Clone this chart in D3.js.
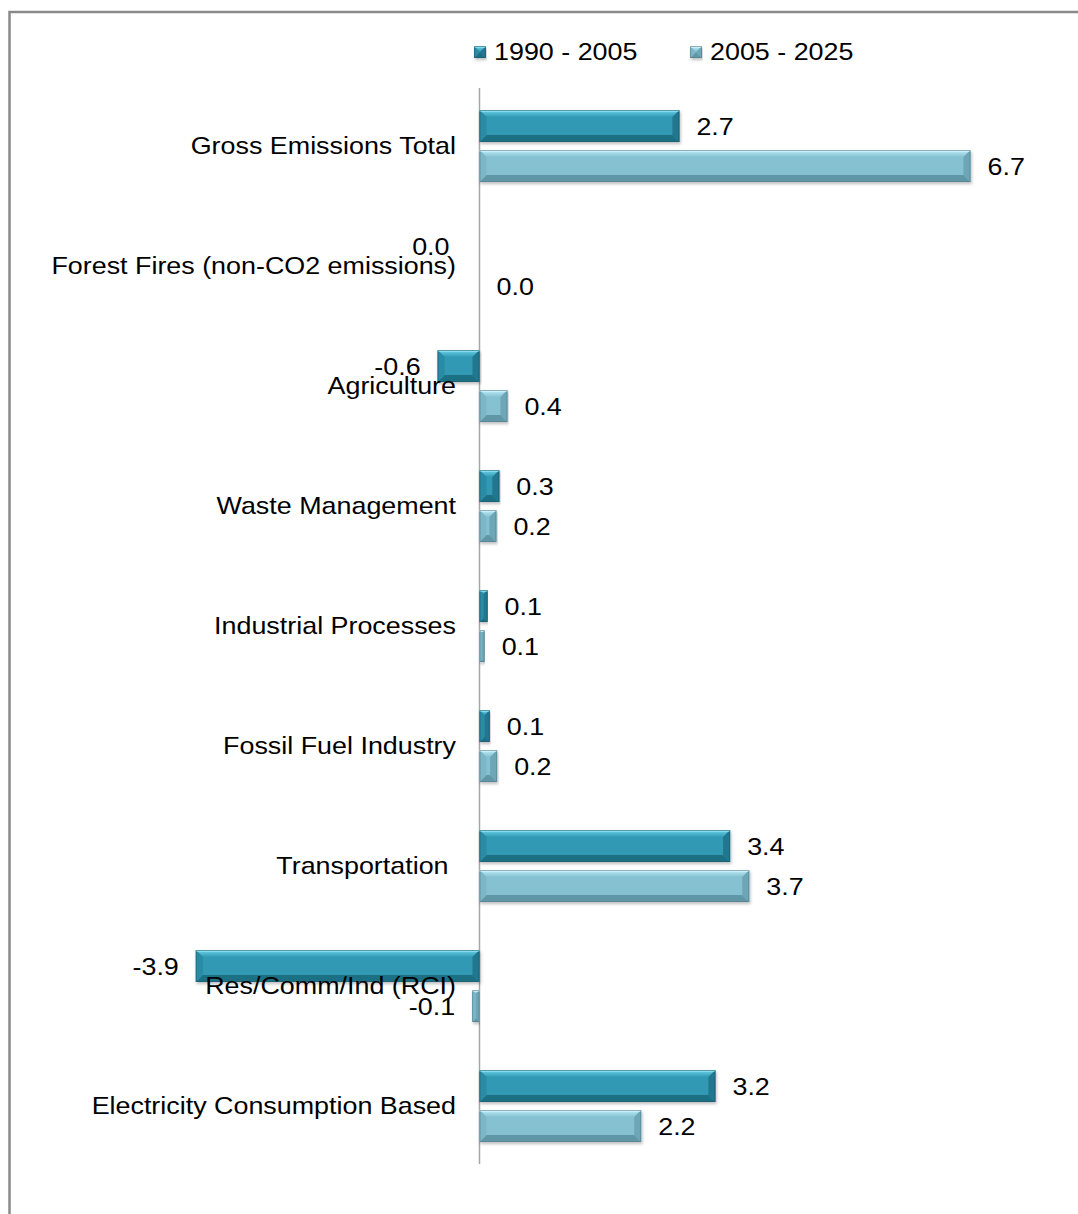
<!DOCTYPE html>
<html>
<head>
<meta charset="utf-8">
<script src="https://cdn.jsdelivr.net/npm/d3@7"></script>
<style>
  body { margin: 0; background: #fff; }
  svg { display: block; font-family: "Liberation Sans", Arial, sans-serif; }
</style>
</head>
<body>
<div id="chart"></div>
<script>
// categories, top to bottom
const categories = [
    "Gross Emissions Total",
    "Forest Fires (non-CO2 emissions)",
    "Agriculture",
    "Waste Management",
    "Industrial Processes",
    "Fossil Fuel Industry",
    "Transportation ",
    "Res/Comm/Ind (RCI)",
    "Electricity Consumption Based"
];
const seriesNames = ["1990 - 2005", "2005 - 2025"];
// values (labels show one decimal)
const values1990 = [2.72, 0.0, -0.57, 0.27, 0.11, 0.14, 3.41, -3.86, 3.21];
const values2005 = [6.68, 0.0, 0.38, 0.23, 0.07, 0.24, 3.67, -0.1, 2.2];

const W = 1078, H = 1214;
const stretch = 1.12;   // the original text is drawn a little wide

const svg = d3.select("#chart").append("svg")
    .attr("width", W)
    .attr("height", H);

// outer frame (runs off the right and bottom edges)
svg.append("rect")
    .attr("x", 9.5).attr("y", 12)
    .attr("width", 1200).attr("height", 1300)
    .attr("fill", "none")
    .attr("stroke", "#8a8a8a")
    .attr("stroke-width", 2.5);

// Scales
const x = d3.scaleLinear()
    .domain([-5, 8])
    .range([479.5 - 5 * 73.5, 479.5 + 8 * 73.5]);

const y = d3.scaleBand()
    .domain(categories)
    .range([86, 1166]);

const ySub = d3.scaleBand()
    .domain(seriesNames)
    .range([24, 96])
    .paddingInner(0.2);

const palette = [
    { base: "#3199b4", top: "#6fd6ea", hi: "#a8f0fb", bottom: "#1f6f84", left: "#2a8ba5", right: "#22768d", edge: "#1c5e70" },
    { base: "#86c1d2", top: "#bdeff8", hi: "#e2fbff", bottom: "#5f97a7", left: "#7cb6c7", right: "#6ea6b6", edge: "#557f8c" }
];

const defs = svg.append("defs");
const shadow = defs.append("filter").attr("id", "shadow")
    .attr("x", "-5%").attr("y", "-20%").attr("width", "110%").attr("height", "160%");
shadow.append("feDropShadow")
    .attr("dx", 1).attr("dy", 2).attr("stdDeviation", 1.5)
    .attr("flood-color", "#000").attr("flood-opacity", 0.25);

palette.forEach((c, i) => {
    const g = defs.append("linearGradient")
        .attr("id", "face" + i)
        .attr("x1", 0).attr("y1", 0).attr("x2", 0).attr("y2", 1);
    g.append("stop").attr("offset", "0%").attr("stop-color", c.top);
    g.append("stop").attr("offset", "100%").attr("stop-color", c.base);
});

// zero line
svg.append("line")
    .attr("x1", x(0)).attr("x2", x(0))
    .attr("y1", 88).attr("y2", 1164)
    .attr("stroke", "#a6a6a6")
    .attr("stroke-width", 1.5);

// bevelled bar
function drawBar(g, x0, x1, y0, h, c) {
    const w = x1 - x0;
    if (w <= 0.5) return;
    const b = Math.min(7, w / 2, h / 2);
    const y1 = y0 + h;
    const bar = g.append("g").attr("filter", "url(#shadow)");
    bar.append("rect")
        .attr("x", x0).attr("y", y0).attr("width", w).attr("height", h)
        .attr("fill", c.base);
    const poly = (pts, fill) => bar.append("polygon")
        .attr("points", pts.map(p => p.join(",")).join(" "))
        .attr("fill", fill);
    poly([[x0, y0], [x1, y0], [x1 - b, y0 + b], [x0 + b, y0 + b]], `url(#face${c.idx})`);
    poly([[x0, y1], [x1, y1], [x1 - b, y1 - b], [x0 + b, y1 - b]], c.bottom);
    poly([[x0, y0], [x0 + b, y0 + b], [x0 + b, y1 - b], [x0, y1]], c.left);
    poly([[x1, y0], [x1 - b, y0 + b], [x1 - b, y1 - b], [x1, y1]], c.right);
    bar.append("line")
        .attr("x1", x0).attr("x2", x1).attr("y1", y0 + 0.75).attr("y2", y0 + 0.75)
        .attr("stroke", c.hi).attr("stroke-width", 1.5);
    bar.append("rect")
        .attr("x", x0 + 0.5).attr("y", y0 + 0.5).attr("width", w - 1).attr("height", h - 1)
        .attr("fill", "none").attr("stroke", c.edge).attr("stroke-width", 1).attr("stroke-opacity", 0.6);
}

// text drawn a bit wider than the font, anchored at (tx, ty)
function wideText(g, tx, ty, str, anchor) {
    return g.append("text")
        .attr("transform", `translate(${tx},${ty}) scale(${stretch},1)`)
        .attr("dy", "0.35em")
        .attr("text-anchor", anchor || "start")
        .attr("font-size", 24)
        .attr("fill", "#000")
        .style("white-space", "pre")
        .text(str);
}

const fmt = d3.formatLocale({
    decimal: ".", thousands: ",", grouping: [3], currency: ["$", ""], minus: "-"
}).format(".1f");

const labels = svg.append("g");

[values1990, values2005].forEach((vals, si) => {
    const c = Object.assign({ idx: si }, palette[si]);
    const layer = svg.insert("g", "g.cats");
    categories.forEach((cat, ci) => {
        const v = vals[ci];
        const yy = y(cat) + ySub(seriesNames[si]);
        const h = ySub.bandwidth();
        const xa = x(Math.min(0, v)), xb = x(Math.max(0, v));
        drawBar(layer, xa, xb, yy, h, c);

        // Excel pushes the first series' zero label to the left side
        const zeroLeft = v === 0 && si === 0;
        const neg = v < 0 || zeroLeft;
        const gap = zeroLeft ? 30 : 17;
        wideText(labels, neg ? x(v) - gap : x(v) + gap, yy + h / 2 + 1, fmt(v), neg ? "end" : "start");
    });
});

// category labels (drawn over the bars, as in the original)
const cats = svg.append("g").attr("class", "cats");
categories.forEach(d => wideText(cats, 456, y(d) + y.bandwidth() / 2, d, "end"));

// legend
const legend = svg.append("g");
const legendX = [474, 690];
seriesNames.forEach((name, i) => {
    const c = Object.assign({ idx: i }, palette[i]);
    drawBar(legend, legendX[i], legendX[i] + 12, 46, 12, c);
    wideText(legend, legendX[i] + 20, 52, name);
});
</script>
</body>
</html>
